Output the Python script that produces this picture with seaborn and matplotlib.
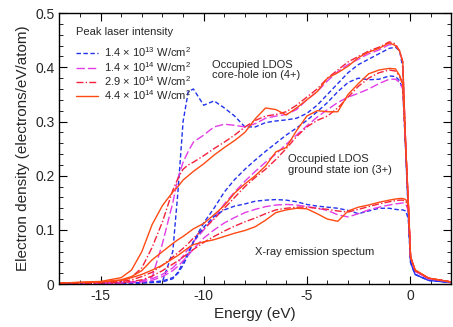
import matplotlib
matplotlib.use("Agg")
import matplotlib.pyplot as plt
from matplotlib.ticker import MultipleLocator, FuncFormatter
import seaborn as sns

energy = [-17, -15, -14, -13.5, -13, -12.5, -12, -11.5, -11.25, -11, -10.75, -10.5,
          -10, -9.5, -9, -8.5, -8, -7.5, -7, -6.5, -6, -5.5, -5, -4.5, -4, -3.5,
          -3, -2.5, -2, -1.5, -1, -0.7, -0.5, -0.35, -0.2, -0.08, 0.03, 0.25, 0.9, 2]

intensities = [r"1.4 $\times$ 10$^{13}$ W/cm$^2$", r"1.4 $\times$ 10$^{14}$ W/cm$^2$",
               r"2.9 $\times$ 10$^{14}$ W/cm$^2$", r"4.4 $\times$ 10$^{14}$ W/cm$^2$"]

# occupied LDOS, core-hole ion (4+)
core_blue = [0.001, 0.002, 0.002, 0.003, 0.003, 0.004, 0.005, 0.06, 0.17, 0.30, 0.355, 0.36,
             0.33, 0.338, 0.325, 0.31, 0.29, 0.29, 0.298, 0.301, 0.303, 0.306, 0.315, 0.33, 0.35, 0.37,
             0.39, 0.405, 0.415, 0.425, 0.435, 0.437, 0.43, 0.40, 0.24, 0.13, 0.04, 0.018, 0.007, 0.003]
core_mag = [0.001, 0.002, 0.003, 0.004, 0.006, 0.013, 0.075, 0.15, 0.195, 0.225, 0.245, 0.262,
            0.275, 0.29, 0.295, 0.293, 0.29, 0.296, 0.306, 0.31, 0.313, 0.322, 0.34, 0.355, 0.375, 0.392,
            0.405, 0.415, 0.425, 0.432, 0.442, 0.44, 0.43, 0.41, 0.25, 0.15, 0.05, 0.024, 0.01, 0.004]
core_red = [0.001, 0.003, 0.006, 0.013, 0.03, 0.068, 0.115, 0.173, 0.195, 0.212, 0.22, 0.225,
            0.237, 0.25, 0.262, 0.275, 0.29, 0.302, 0.31, 0.313, 0.318, 0.33, 0.345, 0.36, 0.38, 0.395,
            0.41, 0.42, 0.43, 0.437, 0.447, 0.443, 0.43, 0.41, 0.25, 0.15, 0.05, 0.025, 0.011, 0.004]
core_orange = [0.002, 0.005, 0.012, 0.026, 0.06, 0.11, 0.145, 0.17, 0.18, 0.192, 0.2, 0.208,
               0.222, 0.238, 0.252, 0.265, 0.28, 0.305, 0.325, 0.322, 0.312, 0.325, 0.34, 0.355, 0.38, 0.39,
               0.402, 0.418, 0.428, 0.435, 0.445, 0.44, 0.43, 0.41, 0.25, 0.15, 0.05, 0.026, 0.011, 0.004]

# occupied LDOS, ground state ion (3+)
gs_blue = [0.001, 0.001, 0.002, 0.002, 0.003, 0.004, 0.006, 0.012, 0.02, 0.035, 0.055, 0.078,
           0.113, 0.14, 0.17, 0.193, 0.212, 0.229, 0.245, 0.26, 0.275, 0.288, 0.302, 0.318, 0.335, 0.355,
           0.372, 0.38, 0.377, 0.378, 0.384, 0.383, 0.375, 0.36, 0.24, 0.13, 0.04, 0.018, 0.007, 0.003]
gs_mag = [0.001, 0.002, 0.003, 0.004, 0.006, 0.01, 0.018, 0.03, 0.04, 0.052, 0.065, 0.078,
          0.1, 0.122, 0.148, 0.17, 0.19, 0.208, 0.225, 0.24, 0.258, 0.275, 0.292, 0.308, 0.322, 0.335,
          0.345, 0.352, 0.36, 0.37, 0.378, 0.378, 0.372, 0.36, 0.25, 0.15, 0.05, 0.024, 0.01, 0.004]
gs_red = [0.001, 0.003, 0.005, 0.008, 0.014, 0.022, 0.035, 0.05, 0.058, 0.066, 0.075, 0.085,
          0.102, 0.12, 0.14, 0.16, 0.18, 0.197, 0.212, 0.23, 0.25, 0.272, 0.29, 0.302, 0.31, 0.325,
          0.345, 0.365, 0.38, 0.39, 0.395, 0.393, 0.383, 0.368, 0.25, 0.15, 0.05, 0.025, 0.011, 0.004]
gs_orange = [0.002, 0.004, 0.008, 0.014, 0.025, 0.045, 0.06, 0.075, 0.082, 0.088, 0.095, 0.102,
             0.112, 0.128, 0.145, 0.168, 0.185, 0.2, 0.218, 0.244, 0.252, 0.283, 0.31, 0.32, 0.318, 0.318,
             0.35, 0.37, 0.388, 0.395, 0.398, 0.397, 0.385, 0.37, 0.25, 0.15, 0.05, 0.026, 0.011, 0.004]

# X-ray emission spectrum
xes_blue = [0.001, 0.001, 0.001, 0.002, 0.002, 0.003, 0.004, 0.01, 0.022, 0.04, 0.058, 0.078,
            0.105, 0.125, 0.137, 0.144, 0.148, 0.153, 0.155, 0.156, 0.155, 0.152, 0.147, 0.144, 0.142, 0.14,
            0.136, 0.13, 0.135, 0.14, 0.14, 0.138, 0.137, 0.137, 0.135, 0.12, 0.04, 0.018, 0.007, 0.003]
xes_mag = [0.001, 0.001, 0.002, 0.003, 0.004, 0.007, 0.014, 0.025, 0.033, 0.043, 0.053, 0.065,
           0.085, 0.1, 0.113, 0.123, 0.132, 0.138, 0.143, 0.146, 0.147, 0.146, 0.143, 0.14, 0.136, 0.128,
           0.124, 0.13, 0.137, 0.142, 0.146, 0.148, 0.149, 0.15, 0.148, 0.135, 0.05, 0.024, 0.01, 0.004]
xes_red = [0.001, 0.002, 0.003, 0.005, 0.008, 0.015, 0.025, 0.037, 0.043, 0.05, 0.057, 0.064,
           0.077, 0.088, 0.098, 0.107, 0.115, 0.122, 0.13, 0.137, 0.14, 0.142, 0.142, 0.14, 0.138, 0.135,
           0.133, 0.138, 0.143, 0.148, 0.152, 0.154, 0.155, 0.155, 0.153, 0.14, 0.05, 0.025, 0.011, 0.004]
xes_orange = [0.002, 0.004, 0.007, 0.012, 0.018, 0.026, 0.035, 0.047, 0.053, 0.06, 0.067, 0.073,
              0.078, 0.082, 0.088, 0.094, 0.099, 0.106, 0.118, 0.132, 0.137, 0.14, 0.139, 0.13, 0.12, 0.116,
              0.135, 0.142, 0.146, 0.151, 0.155, 0.157, 0.158, 0.158, 0.156, 0.145, 0.05, 0.026, 0.011, 0.004]

families = [
    [core_blue, core_mag, core_red, core_orange],
    [gs_blue, gs_mag, gs_red, gs_orange],
    [xes_blue, xes_mag, xes_red, xes_orange],
]

colors = ["#2233ee", "#e23ce6", "#f5203c", "#ff4a12"]
dashes = [(0, (3.2, 1.8)), (0, (6, 2.2)), (0, (5, 1.6, 1, 1.6)), "-"]

sns.set_style("ticks")
plt.rcParams["font.family"] = ["Liberation Sans", "DejaVu Sans"]
plt.rcParams["mathtext.fontset"] = "custom"
plt.rcParams["mathtext.rm"] = "Liberation Sans"
plt.rcParams["mathtext.it"] = "Liberation Sans:italic"
plt.rcParams["axes.unicode_minus"] = False

fig = plt.figure(figsize=(4.53, 3.27), dpi=100)
ax = fig.add_axes([0.131, 0.131, 0.865, 0.829])

for fam in families:
    for k, vals in enumerate(fam):
        sns.lineplot(x=energy, y=vals, ax=ax, color=colors[k], linestyle=dashes[k],
                     linewidth=1.0, label=intensities[k] if fam is families[0] else None)

ax.set_xlim(-17, 2)
ax.set_ylim(0, 0.5)
ax.xaxis.set_major_locator(MultipleLocator(5))
ax.xaxis.set_minor_locator(MultipleLocator(1))
ax.yaxis.set_major_locator(MultipleLocator(0.1))
ax.yaxis.set_minor_locator(MultipleLocator(0.02))
ax.yaxis.set_major_formatter(FuncFormatter(lambda v, p: "0" if abs(v) < 1e-9 else f"{v:g}"))
ax.tick_params(which="both", direction="in", top=True, right=True, labelsize=10, color="black")
ax.tick_params(which="major", length=6, width=0.8)
ax.tick_params(which="minor", length=3, width=0.6)
for s in ax.spines.values():
    s.set_linewidth(1.0)
    s.set_color("black")

ax.set_xlabel("Energy (eV)", fontsize=11, labelpad=3)
ax.set_ylabel("Electron density (electrons/eV/atom)", fontsize=11, labelpad=4)

leg = ax.legend(title="Peak laser intensity", loc="upper left", bbox_to_anchor=(0.03, 0.965),
                frameon=False, fontsize=8, title_fontsize=8, handlelength=2.0,
                handletextpad=0.6, labelspacing=0.05, borderaxespad=0)
leg._legend_box.align = "left"
leg._legend_box.sep = 6

ax.text(-9.6, 0.395, "Occupied LDOS\ncore-hole ion (4+)", fontsize=8, ha="left", va="center",
        linespacing=1.1)
ax.text(-5.9, 0.22, "Occupied LDOS\nground state ion (3+)", fontsize=8, ha="left", va="center",
        linespacing=1.1)
ax.text(-7.5, 0.06, "X-ray emission spectum", fontsize=8, ha="left", va="center")

fig.savefig("out.png", dpi=100)
